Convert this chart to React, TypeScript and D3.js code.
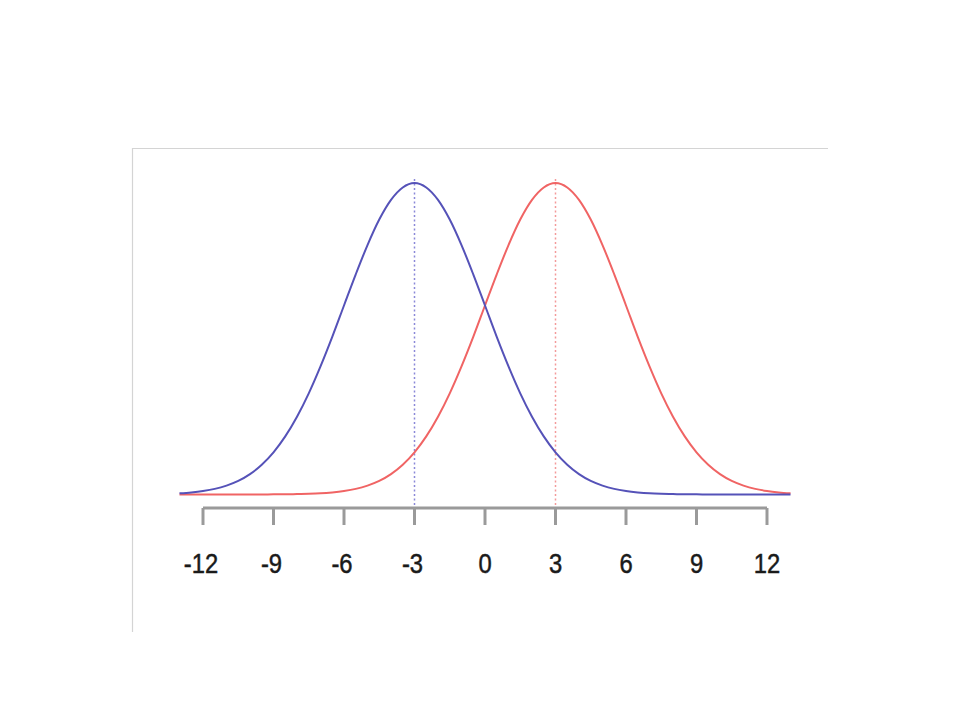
import React from "react";
import * as d3 from "d3";

// x positions (step 0.5 from -13 to 13)
const xValues: number[] = [
  -13, -12.5, -12, -11.5, -11, -10.5, -10, -9.5, -9, -8.5, -8, -7.5, -7, -6.5, -6, -5.5, -5, -4.5, -4, -3.5,
  -3, -2.5, -2, -1.5, -1, -0.5, 0, 0.5, 1, 1.5, 2, 2.5, 3, 3.5, 4, 4.5, 5, 5.5, 6, 6.5,
  7, 7.5, 8, 8.5, 9, 9.5, 10, 10.5, 11, 11.5, 12, 12.5, 13,
];

// blue curve (centred at -3)
const blueValues: number[] = [
  0.0005, 0.0009, 0.0015, 0.0024, 0.0038, 0.0058, 0.0087, 0.0127, 0.018, 0.0248, 0.0332, 0.0432, 0.0547, 0.0673, 0.0807, 0.094, 0.1065, 0.1174, 0.1258, 0.1311,
  0.133, 0.1311, 0.1258, 0.1174, 0.1065, 0.094, 0.0807, 0.0673, 0.0547, 0.0432, 0.0332, 0.0248, 0.018, 0.0127, 0.0087, 0.0058, 0.0038, 0.0024, 0.0015, 0.0009,
  0.0005, 0.0003, 0.0002, 0.0001, 0.0001, 0, 0, 0, 0, 0, 0, 0, 0,
];

// red curve (centred at 3)
const redValues: number[] = [
  0, 0, 0, 0, 0, 0, 0, 0, 0.0001, 0.0001, 0.0002, 0.0003, 0.0005, 0.0009, 0.0015, 0.0024, 0.0038, 0.0058, 0.0087, 0.0127,
  0.018, 0.0248, 0.0332, 0.0432, 0.0547, 0.0673, 0.0807, 0.094, 0.1065, 0.1174, 0.1258, 0.1311, 0.133, 0.1311, 0.1258, 0.1174, 0.1065, 0.094, 0.0807, 0.0673,
  0.0547, 0.0432, 0.0332, 0.0248, 0.018, 0.0127, 0.0087, 0.0058, 0.0038, 0.0024, 0.0015, 0.0009, 0.0005,
];

const meanLines: number[] = [-3, 3];
const tickValues: number[] = [-12, -9, -6, -3, 0, 3, 6, 9, 12];

const BLUE = "#5552b8";
const RED = "#f06464";

export default function App() {
  const x = d3.scaleLinear().domain([-12, 12]).range([203, 767]);
  const y = d3.scaleLinear().domain([0, 0.133]).range([494.5, 183]);

  const line = d3
    .line<[number, number]>()
    .x((d) => x(d[0]))
    .y((d) => y(d[1]))
    .curve(d3.curveMonotoneX);

  const blueData: [number, number][] = xValues.map((v, i) => [v, blueValues[i]]);
  const redData: [number, number][] = xValues.map((v, i) => [v, redValues[i]]);

  const axisY = 508;

  return (
    <svg
      width={960}
      height={720}
      style={{ position: "absolute", left: 0, top: 0, background: "#fff" }}
    >
      <rect x={0} y={0} width={960} height={720} fill="#fff" />
      {/* frame lines */}
      <line x1={132} y1={148.5} x2={828} y2={148.5} stroke="#d4d4d4" strokeWidth={1.2} />
      <line x1={132.5} y1={148} x2={132.5} y2={632} stroke="#d4d4d4" strokeWidth={1.2} />

      {/* mean lines */}
      <line
        x1={x(meanLines[0])}
        x2={x(meanLines[0])}
        y1={y(0.133) - 4}
        y2={axisY}
        stroke="#8a88d8"
        strokeWidth={1.5}
        strokeDasharray="2,2.5"
      />
      <line
        x1={x(meanLines[1])}
        x2={x(meanLines[1])}
        y1={y(0.133) - 4}
        y2={axisY}
        stroke="#f39a9a"
        strokeWidth={1.5}
        strokeDasharray="2,2.5"
      />

      {/* curves */}
      <path d={line(redData) || ""} fill="none" stroke={RED} strokeWidth={2} />
      <path d={line(blueData) || ""} fill="none" stroke={BLUE} strokeWidth={2} />

      {/* axis */}
      <line
        x1={x(tickValues[0])}
        x2={x(tickValues[tickValues.length - 1])}
        y1={axisY}
        y2={axisY}
        stroke="#9a9a9a"
        strokeWidth={3}
      />
      {tickValues.map((t) => (
        <g key={t}>
          <line x1={x(t)} x2={x(t)} y1={axisY} y2={axisY + 17} stroke="#9a9a9a" strokeWidth={3} />
          <text
            transform={`translate(${x(t) - (t < 0 ? 2 : 0)},572.5) scale(0.85,1)`}
            textAnchor="middle"
            fontFamily="Liberation Sans, Arial, sans-serif"
            fontSize={28}
            fill="#1a1a1a"
            stroke="#1a1a1a"
            strokeWidth={0.5}
          >
            {t}
          </text>
        </g>
      ))}
    </svg>
  );
}
